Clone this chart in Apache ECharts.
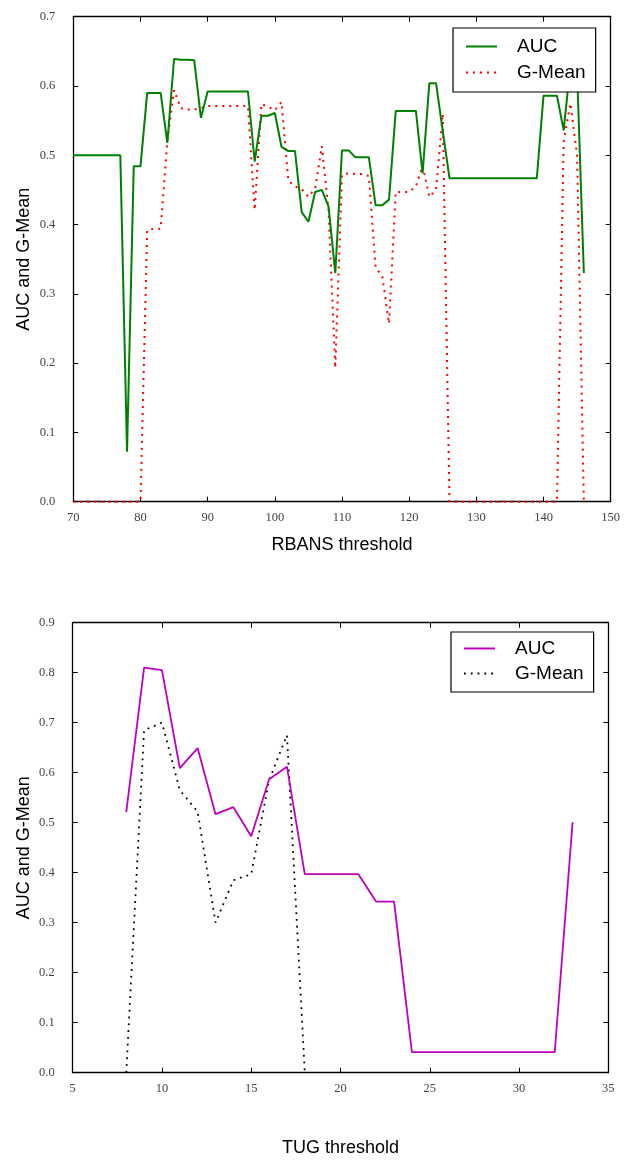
<!DOCTYPE html>
<html><head><meta charset="utf-8">
<script src="https://cdn.jsdelivr.net/npm/echarts@6.0.0/dist/echarts.min.js"></script>
<style>html,body{margin:0;padding:0;background:#fff}#c1,#c2{width:624px;height:580px}</style>
</head><body><div id="c1"></div><div id="c2"></div>
<script>
// ---------- Top chart: RBANS ----------
const rbansThreshold = [70,71,72,73,74,75,76,77,78,79,80,81,82,83,84,85,86,87,88,89,90,91,92,93,94,95,96,97,98,99,100,101,102,103,104,105,106,107,108,109,110,111,112,113,114,115,116,117,118,119,120,121,122,123,124,125,126,127,128,129,130,131,132,133,134,135,136,137,138,139,140,141,142,143,144,145,146];
const rbansAUC = [0.5,0.5,0.5,0.5,0.5,0.5,0.5,0.5,0.072,0.484,0.484,0.59,0.59,0.59,0.518,0.639,0.638,0.638,0.637,0.554,0.592,0.592,0.592,0.592,0.592,0.592,0.592,0.491,0.557,0.557,0.561,0.512,0.506,0.506,0.418,0.404,0.447,0.45,0.426,0.33,0.507,0.507,0.497,0.497,0.497,0.428,0.428,0.436,0.564,0.564,0.564,0.564,0.474,0.604,0.604,0.535,0.467,0.467,0.467,0.467,0.467,0.467,0.467,0.467,0.467,0.467,0.467,0.467,0.467,0.467,0.586,0.586,0.586,0.536,0.63,0.62,0.33];
const rbansGMean = [0,0,0,0,0,0,0,0,0,0,0,0.392,0.394,0.394,0.52,0.594,0.568,0.566,0.566,0.568,0.571,0.571,0.571,0.571,0.571,0.571,0.571,0.421,0.574,0.57,0.565,0.577,0.464,0.455,0.451,0.44,0.452,0.513,0.42,0.193,0.472,0.474,0.473,0.473,0.47,0.338,0.325,0.257,0.447,0.447,0.447,0.455,0.485,0.44,0.45,0.56,0,0,0,0,0,0,0,0,0,0,0,0,0,0,0,0,0,0.52,0.575,0.5,0];
const rbansXTicks = {min:70, max:150, step:10};
const rbansYTicks = {min:0, max:0.7, step:0.1};

// ---------- Bottom chart: TUG ----------
const tugThreshold = [8,9,10,11,12,13,14,15,16,17,18,19,20,21,22,23,24,25,26,27,28,29,30,31,32,33];
const tugAUC = [0.521,0.81,0.805,0.609,0.649,0.517,0.531,0.473,0.587,0.612,0.397,0.397,0.397,0.397,0.342,0.342,0.041,0.041,0.041,0.041,0.041,0.041,0.041,0.041,0.041,0.501];
const tugGMeanThreshold = [8,9,10,11,12,13,14,15,16,17,18];
const tugGMean = [0,0.685,0.70,0.565,0.522,0.30,0.385,0.397,0.585,0.675,0];
const tugXTicks = {min:5, max:35, step:5};
const tugYTicks = {min:0, max:0.9, step:0.1};

const seriesNames = ['AUC','G-Mean'];

function zip(xs, ys){ return xs.map((x,i)=>[x, ys[i]]); }

const SERIF = 'Liberation Serif';
const SANS = 'Liberation Sans';

function axisPair(kind, ticks, name, nameGap, fmt){
  const base = {
    type:'value', min:ticks.min, max:ticks.max, interval:ticks.step,
    splitLine:{show:false},
    axisLine:{show:true, onZero:false, lineStyle:{color:'#000', width:1.3}},
    axisTick:{show:true, inside:true, length:5, lineStyle:{color:'#000', width:1}}
  };
  const main = Object.assign({}, base, {
    position: kind==='x' ? 'bottom' : 'left',
    axisLabel:{show:true, fontFamily:SERIF, fontSize:12.5, color:'#444', margin:kind==='x'?10:18,
      showMinLabel:true, showMaxLabel:true, formatter:fmt},
    name:name, nameLocation:'middle', nameGap:nameGap, nameMoveOverlap:false,
    nameTextStyle:{fontFamily:SANS, fontSize:18, color:'#000'}
  });
  const other = Object.assign({}, base, {
    position: kind==='x' ? 'top' : 'right',
    axisLabel:{show:false}
  });
  return [main, other];
}

function makeOption(cfg){
  return {
    animation:false,
    backgroundColor:'#fff',
    grid:{left:cfg.grid.left, top:cfg.grid.top, width:cfg.grid.width, height:cfg.grid.height,
      containLabel:false, outerBoundsMode:'none'},
    xAxis: axisPair('x', cfg.xTicks, cfg.xName, cfg.xNameGap, v=>String(Math.round(v))),
    yAxis: axisPair('y', cfg.yTicks, 'AUC and G-Mean', cfg.yNameGap, v=>v.toFixed(1)),
    legend:{
      orient:'vertical', left:cfg.legend.left, top:cfg.legend.top, z:20,
      data:seriesNames,
      itemWidth:31, itemHeight:14, itemGap:cfg.legend.gap,
      itemStyle:{opacity:0, color:'rgba(0,0,0,0)', borderWidth:0},
      backgroundColor:'#fff', borderColor:'#000', borderWidth:1.2, borderRadius:0,
      padding:cfg.legend.padding,
      textStyle:{fontFamily:SANS, fontSize:19, color:'#000', padding:[0,0,0,15]}
    },
    series:[
      {name:'AUC', type:'line', symbol:'none', showSymbol:false, clip:false, z:3,
       data:cfg.aucData, lineStyle:cfg.aucStyle, itemStyle:{color:cfg.aucStyle.color}},
      {name:'G-Mean', type:'line', symbol:'none', showSymbol:false, clip:false, z:2,
       data:cfg.gData, lineStyle:cfg.gStyle, itemStyle:{color:cfg.gStyle.color}}
    ]
  };
}

const c1 = echarts.init(document.getElementById('c1'), null, {renderer:'canvas'});
c1.setOption(makeOption({
  grid:{left:73.3, top:16.7, width:537.4, height:485},
  xTicks:rbansXTicks, yTicks:rbansYTicks,
  xName:'RBANS threshold', xNameGap:34, yNameGap:40,
  legend:{left:453, top:28, gap:7, padding:[9,10,10,12]},
  aucData:zip(rbansThreshold, rbansAUC),
  gData:zip(rbansThreshold, rbansGMean),
  aucStyle:{color:'#008000', width:2, type:'solid'},
  gStyle:{color:'#ff0000', width:2, type:[2,5]}
}));

const c2 = echarts.init(document.getElementById('c2'), null, {renderer:'canvas'});
c2.setOption(makeOption({
  grid:{left:72.7, top:42.7, width:535.6, height:450},
  xTicks:tugXTicks, yTicks:tugYTicks,
  xName:'TUG threshold', xNameGap:66, yNameGap:40,
  legend:{left:451, top:52, gap:6, padding:[7,10,9,12]},
  aucData:zip(tugThreshold, tugAUC),
  gData:zip(tugGMeanThreshold, tugGMean),
  aucStyle:{color:'#bf00bf', width:1.8, type:'solid'},
  gStyle:{color:'#000000', width:1.8, type:[1.8,5]}
}));
</script></body></html>
